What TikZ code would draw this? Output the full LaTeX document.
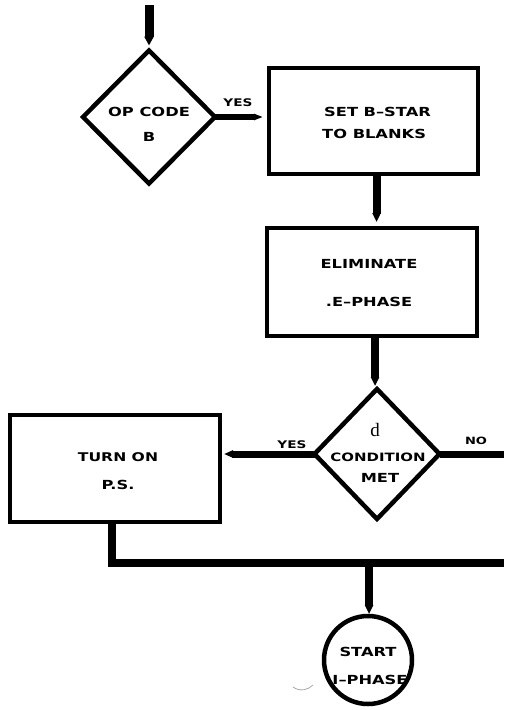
\documentclass[tikz,border=0pt]{standalone}
\usepackage{fontspec}
\newfontfamily\fcfont[FakeStretch=1.3]{DejaVu Sans}
\newfontfamily\dfont{Liberation Serif}
\usetikzlibrary{shapes.geometric,arrows.meta}
\tikzset{
  x=1pt, y=-1pt,
  shapeline/.style={draw=black, line width=4.5pt, fill=white, inner sep=0pt, outer sep=0pt},
  procbox/.style={shapeline, rectangle, line width=4pt},
  decision/.style={shapeline, diamond},
  terminal/.style={shapeline, circle},
  flow/.style={draw=black, line width=8pt, -{Triangle[length=9pt, width=0pt 1]}},
  bar/.style={draw=black, line width=8pt},
  lbl/.style={font=\fcfont\bfseries\fontsize{12.5}{14}\selectfont, inner sep=0pt, anchor=center},
  small/.style={lbl, font=\fcfont\bfseries\fontsize{10.5}{12}\selectfont},
}
\begin{document}
\begin{tikzpicture}
\useasboundingbox (0,0) rectangle (504,710);

% shapes
\node[decision, minimum width=132pt, minimum height=133pt] (op) at (149,117) {};
\node[procbox, minimum width=209pt, minimum height=106pt] (setb) at (373.5,121) {};
\node[procbox, minimum width=210pt, minimum height=108pt] (elim) at (372,282) {};
\node[decision, minimum width=125pt, minimum height=130pt] (cond) at (377,454) {};
\node[procbox, minimum width=210pt, minimum height=107pt] (turn) at (115,468.5) {};
\node[terminal, minimum size=88pt] (start) at (368,660) {};

% coordinates for free ends
\coordinate (top) at (149,5);
\coordinate (noend) at (504,455);
\coordinate (busend) at (504,563);
\coordinate (junc) at (369,563);

% connectors
\draw[flow, line width=9pt, shorten >=5pt] (top) -- (op.north);
\draw[flow, line width=6pt, shorten >=6pt] (op.east) -- (op.east -| setb.west);
\draw[flow, shorten >=6pt] ([xshift=3pt]setb.south) -- ([xshift=3pt]setb.south |- elim.north);
\draw[flow, shorten >=3pt] ([xshift=3pt]elim.south) -- ([xshift=3pt]elim.south |- cond.north);
\draw[flow, line width=7pt, shorten >=4pt] (cond.west) -- (cond.west -| turn.east);
\draw[bar, line width=7pt] (cond.east) -- (cond.east -| noend);
\draw[bar] ([xshift=-3pt]turn.south) |- (busend);
\draw[flow, shorten >=2pt] (junc) -- (junc |- start.north);

% texts
\node[lbl] (t1) at (149,112) {OP CODE};
\node[lbl] (t2) at (149,137) {B};
\node[small] (y1) at (238,103) {YES};
\node[lbl, anchor=west] (t3) at (324,112) {SET B–STAR};
\node[lbl, anchor=west] (t4) at (322,134) {TO BLANKS};
\node[lbl] (t5) at (369,264) {ELIMINATE};
\node[lbl] (t6) at (369,302) {.E–PHASE};
\node[inner sep=0pt, font=\dfont\fontsize{19}{20}\selectfont] (t7) at (375,430) {d};
\node[lbl, font=\fcfont\bfseries\fontsize{11.5}{13}\selectfont] (t8) at (378,457) {CONDITION};
\node[lbl] (t9) at (380,478) {MET};
\node[small] (y2) at (292,445) {YES};
\node[small, font=\fcfont\bfseries\fontsize{10}{11}\selectfont] (n1) at (476,441) {NO};
\node[lbl, font=\fcfont\bfseries\fontsize{12}{13}\selectfont] (t10) at (118,457) {TURN ON};
\node[lbl] (t11) at (118,485) {P.S.};
\node[lbl] (t12) at (368,652) {START};
\node[lbl] (t13) at (370,680) {I–PHASE};

% stray mark
\draw[gray!70, line width=0.8pt] (293,687) .. controls (300,692) and (308,690) .. (313,685);
\end{tikzpicture}
\end{document}
